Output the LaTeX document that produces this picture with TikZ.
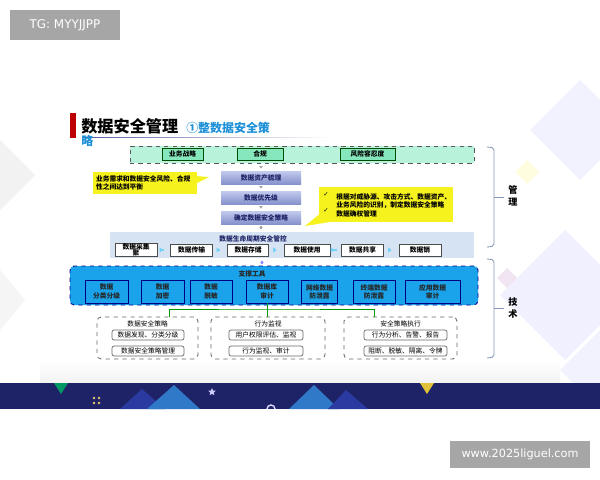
\documentclass[tikz,border=0pt]{standalone}
\usepackage{fontspec}
\setmainfont{Noto Sans CJK SC}
\newfontfamily\djf{DejaVu Sans}
\usetikzlibrary{arrows.meta,shapes.geometric}
\definecolor{navy}{HTML}{1E2266}
\definecolor{mint}{HTML}{B8F2DA}
\definecolor{mintin}{HTML}{86E6BC}
\definecolor{tblue}{HTML}{1AA3EA}
\definecolor{titleblue}{HTML}{1E90D8}
\definecolor{yel}{HTML}{F6F21E}
\definecolor{pur}{HTML}{C3CAEE}
\definecolor{purd}{HTML}{8592CC}
\definecolor{lcb}{HTML}{D6E3F3}
\definecolor{brk}{HTML}{8396B8}
\definecolor{darktri}{HTML}{2A3AA0}
\definecolor{lighttri}{HTML}{3078C8}
\begin{document}
\begin{tikzpicture}[x=0.025cm,y=-0.025cm,
  bx/.style 2 args={minimum width=#1*0.025cm, minimum height=#2*0.025cm, inner sep=0pt, align=center},
  fsm/.style={font=\fontsize{4.8}{5.8}\selectfont},
  fsb/.style={font=\fontsize{4.8}{5.8}\selectfont\bfseries},
  gin/.style={draw=green!30!black, fill=mintin, line width=0.5pt, fsb},
  pbox/.style={draw=none, top color=pur, bottom color=purd, fsb, text=navy},
  lbox/.style={draw=black!70, fill=white, line width=0.4pt, fsb},
  tbox/.style={draw=blue!50!black, fill=tblue, line width=0.4pt, fsb, text=black!85},
  grp/.style={draw=black!60, dashed, rounded corners=3pt, line width=0.6pt, fill=white},
  ibox/.style={draw=black!60, rounded corners=1.5pt, line width=0.5pt, fill=white, fsm},
  sarr/.style={-{Triangle[length=1.8pt,width=2.4pt]}, draw=black!35, line width=0.8pt, shorten >=1.5pt, shorten <=1.5pt},
  larr/.style={-{Triangle[length=2.5pt,width=3.5pt]}, draw=cyan!55, line width=1.3pt, shorten >=5pt, shorten <=5pt},
  gline/.style={draw=green!60!black, line width=0.6pt},
  brkline/.style={draw=brk, line width=0.6pt},
  deco/.style={fill=#1, draw=none}
]
\useasboundingbox (0,0) rectangle (600,480);
\fill[white] (0,0) rectangle (600,480);

% background decorations
\fill[deco=black!5] (0,140) -- (35,175) -- (0,210) -- cycle;
\fill[deco=black!4] (0,270) -- (25,300) -- (0,330) -- cycle;
\fill[deco=blue!5] (580,80) -- (630,130) -- (580,180) -- (530,130) -- cycle;
\fill[deco=blue!6] (565,230) -- (630,295) -- (565,360) -- (500,295) -- cycle;
\fill[deco=blue!5] (600,330) -- (640,370) -- (600,410) -- (560,370) -- cycle;
\fill[deco=yellow!12] (527,160) -- (539,172) -- (527,184) -- (515,172) -- cycle;
\fill[deco=violet!10] (507,268) -- (517,278) -- (507,288) -- (497,278) -- cycle;
\shade[top color=white, bottom color=black!5] (40,360) rectangle (560,383);

% bottom band
\fill[navy] (0,383) rectangle (600,409);
\fill[darktri] (120,409) -- (142,389) -- (165,409) -- cycle;
\fill[lighttri] (147,409) -- (174,385) -- (200,409) -- cycle;
\fill[lighttri] (289,409) -- (314,385) -- (339,409) -- cycle;
\fill[darktri] (328,409) -- (346,390) -- (368,409) -- cycle;
\fill[teal!80!green] (54,383) -- (68,383) -- (61,394) -- cycle;
\fill[yellow!50!brown] (420,383) -- (434,383) -- (427,394) -- cycle;
\node[star, star points=5, star point ratio=2.2, fill=blue!20, minimum size=8*0.025cm, inner sep=0pt] (starmark) at (212,392) {};
\foreach \dx/\dy in {94/398,99/398,94/403,99/403} \fill[yellow!40!brown!70] (\dx,\dy) circle (1.3);
\draw[blue!15, line width=1pt] (267,409) arc[start angle=180, end angle=360, radius=4];

% badges
\node[fill=black!35, bx={110}{30}, text=white, font=\djf\fontsize{8.5}{10}\selectfont] (tg) at (65,25) {TG: MYYJJPP};
\node[fill=black!35, bx={140}{27}, text=white, font=\djf\fontsize{8}{9}\selectfont] (wm) at (520,454.5) {www.2025liguel.com};

% title
\fill[red!75!black] (70,113) rectangle (76,138);
\node[anchor=west, inner sep=0pt, font=\fontsize{11.5}{13}\selectfont\bfseries] (title) at (81,126) {数据安全管理};
\node[anchor=west, inner sep=0pt, text=titleblue, font=\fontsize{8.5}{10}\selectfont\bfseries] (sub) at (186,128) {①整数据安全策};
\shade[left color=blue!30!gray, right color=white] (82,137) rectangle (330,137.8);
\node[anchor=west, inner sep=0pt, text=titleblue, font=\fontsize{8.5}{10}\selectfont\bfseries] (sub2) at (81,141) {略};

% strategy row
\node[bx={344}{17}, draw=black!65, dashed, fill=mint, line width=0.7pt] (strat) at (302,154.5) {};
\node[bx={41}{12}, gin] (s1) at (182.5,154) {业务战略};
\node[bx={46}{12}, gin] (s2) at (260,154) {合规};
\node[bx={55}{12}, gin] (s3) at (367.5,154) {风险容忍度};

% purple steps
\node[bx={80}{13}, pbox] (p1) at (261,177.5) {数据资产梳理};
\node[bx={80}{13}, pbox] (p2) at (261,197.5) {数据优先级};
\node[bx={80}{13}, pbox] (p3) at (261,217.5) {确定数据安全策略};

% yellow callouts
\fill[yel] (195,176) -- (209,177) -- (195,184) -- cycle;
\node[fill=yel, bx={104}{22}, text width=98*0.025cm, align=left, fsb] (yl) at (145,183) {业务需求和数据安全风险、合规\\性之间达到平衡};
\fill[yel] (322,212) -- (305,226) -- (336,221) -- cycle;
\node[fill=yel, bx={134}{35}] (yr) at (386,204.5) {};
\node[anchor=west, inner sep=0pt, font=\djf\fontsize{4.5}{5}\selectfont] (ck1) at (323,195) {✓};
\node[anchor=west, inner sep=0pt, font=\djf\fontsize{4.5}{5}\selectfont] (ck2) at (323,211) {✓};
\node[anchor=west, inner sep=0pt, fsb] (yr1) at (336,197) {根据对威胁源、攻击方式、数据资产、};
\node[anchor=west, inner sep=0pt, fsb] (yr2) at (336,205) {业务风险的识别，制定数据安全策略};
\node[anchor=west, inner sep=0pt, fsb] (yr3) at (336,214) {数据确权管理};

% lifecycle band
\node[bx={364}{26}, fill=lcb] (life) at (292,245) {};
\node[inner sep=0pt, fsb, text=navy] (lifet) at (253,239) {数据生命周期安全管控};
\node[bx={42}{12}, lbox] (l1) at (136,250) {数据采集\\[-1pt]聚};
\node[bx={42}{12}, lbox] (l2) at (191.5,250) {数据传输};
\node[bx={41}{12}, lbox] (l3) at (248,250) {数据存储};
\node[bx={46}{12}, lbox] (l4) at (307,250) {数据使用};
\node[bx={42}{12}, lbox] (l5) at (362.5,250) {数据共享};
\node[bx={42}{12}, lbox] (l6) at (420,250) {数据销};
\draw[larr] (l1) -- (l2);
\draw[larr] (l2) -- (l3);
\draw[larr] (l3) -- (l4);
\draw[larr] (l4) -- (l5);
\draw[larr] (l5) -- (l6);

% small arrows
\draw[sarr] (strat.south -| p1.north) -- (p1.north);
\draw[sarr] (p1) -- (p2);
\draw[sarr] (p2) -- (p3);
\draw[sarr] (p3.south) -- (p3.south |- life.north);

% tools
\node[bx={408}{39}, draw=blue!55!black, dashed, fill=tblue, rounded corners=3pt, line width=0.6pt] (tools) at (274,285.5) {};
\draw[sarr, draw=blue!45] (tools.north -| 262,0) -- (life.south -| 262,0);
\node[inner sep=0pt, fsb, text=black!85] (toolst) at (252,274) {支撑工具};
\node[bx={43}{23}, tbox] (t1) at (106.5,291.5) {数据\\分类分级};
\node[bx={43}{23}, tbox] (t2) at (162.5,291.5) {数据\\加密};
\node[bx={42}{23}, tbox] (t3) at (211,291.5) {数据\\脱敏};
\node[bx={42}{23}, tbox] (t4) at (267,291.5) {数据库\\审计};
\node[bx={36}{23}, tbox] (t5) at (319.5,291.5) {网络数据\\防泄露};
\node[bx={42}{23}, tbox] (t6) at (374,291.5) {终端数据\\防泄露};
\node[bx={55}{23}, tbox] (t7) at (432.5,291.5) {应用数据\\审计};

% groups
\node[bx={101}{42}, grp] (g1) at (147.5,338) {};
\node[bx={114}{42}, grp] (g2) at (268,338) {};
\node[bx={113}{42}, grp] (g3) at (400.5,338) {};
\node[inner sep=0pt, fsm] (g1t) at (147.5,324) {数据安全策略};
\node[inner sep=0pt, fsm] (g2t) at (268,324) {行为监视};
\node[inner sep=0pt, fsm] (g3t) at (400.5,324) {安全策略执行};
\node[bx={72}{10}, ibox] (b11) at (148,335) {数据发现、分类分级};
\node[bx={72}{10}, ibox] (b12) at (148,351) {数据安全策略管理};
\node[bx={74}{10}, ibox] (b21) at (266,335) {用户权限评估、监视};
\node[bx={74}{10}, ibox] (b22) at (266,351) {行为监视、审计};
\node[bx={83}{10}, ibox] (b31) at (405.5,335) {行为分析、告警、报告};
\node[bx={83}{10}, ibox] (b32) at (405.5,351) {阻断、脱敏、隔离、令牌};

% green connectors
\coordinate (ga) at (169,317);
\coordinate (gb) at (374,317);
\coordinate (gj) at (267,309);
\draw[gline] (ga) |- (gj) -| (gb);
\draw[gline] (t4.south) -- (t4.south |- g2.north);

% brackets
\draw[brkline] (487,147) -- (492,147.5) -- (494,150) -- (494,244) -- (492,246.5) -- (487,247);
\draw[brkline] (494,197) -- (504,197);
\draw[brkline] (487,259) -- (492,259.5) -- (494,262) -- (494,355) -- (492,357.5) -- (487,358);
\draw[brkline] (494,308) -- (504,308);
\node[inner sep=0pt, font=\fontsize{6.5}{7}\selectfont\bfseries] (m1) at (513,190) {管};
\node[inner sep=0pt, font=\fontsize{6.5}{7}\selectfont\bfseries] (m2) at (513,202) {理};
\node[inner sep=0pt, font=\fontsize{6.5}{7}\selectfont\bfseries] (j1) at (513,302) {技};
\node[inner sep=0pt, font=\fontsize{6.5}{7}\selectfont\bfseries] (j2) at (513,314) {术};
\end{tikzpicture}
\end{document}
